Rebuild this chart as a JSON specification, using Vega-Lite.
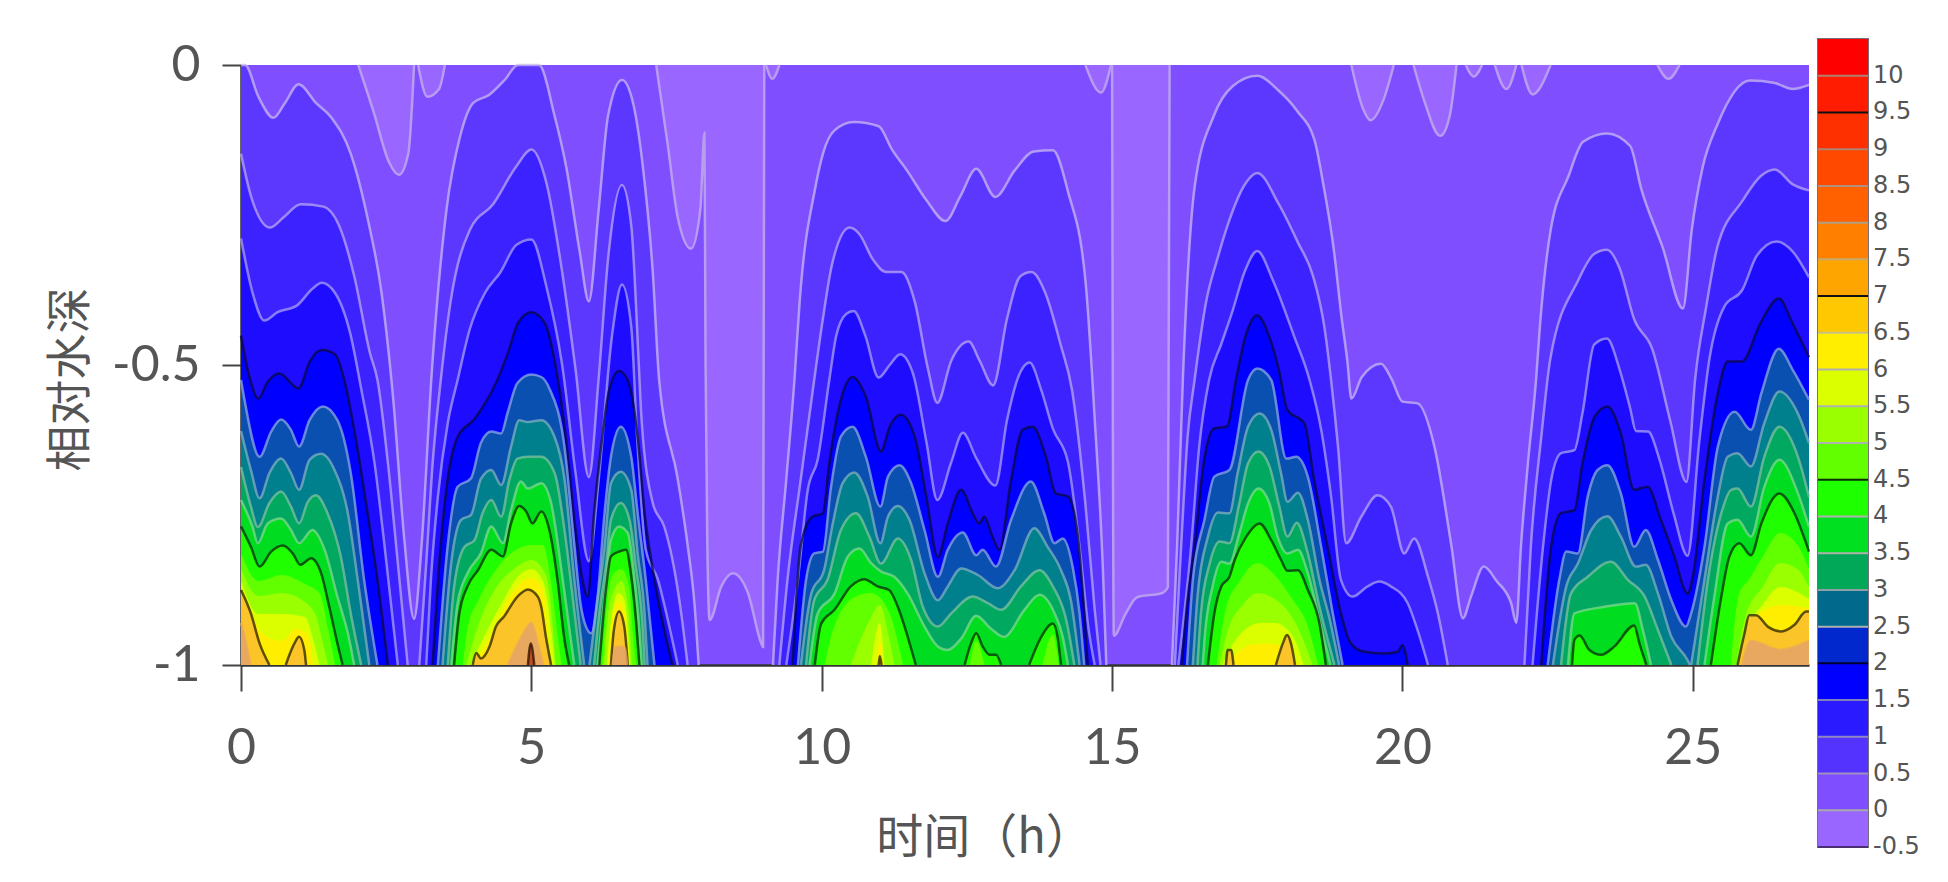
{
  "$schema": "https://vega.github.io/schema/vega-lite/v6.json",
  "background": "white",
  "padding": {"left": 47, "top": 38, "right": 0, "bottom": 12},
  "spacing": 2,
  "datasets": {
    "pockets": [
      {"part":"p1","t":2.02,"y":0},{"part":"p1","t":2.28,"y":-0.077},{"part":"p1","t":2.55,"y":-0.162},{"part":"p1","t":2.72,"y":-0.183},{"part":"p1","t":2.88,"y":-0.148},{"part":"p1","t":2.98,"y":0},
      {"part":"p2","t":3.05,"y":0},{"part":"p2","t":3.21,"y":-0.053},{"part":"p2","t":3.41,"y":-0.04},{"part":"p2","t":3.51,"y":0},
      {"part":"p3","t":7.15,"y":0},{"part":"p3","t":7.35,"y":-0.134},{"part":"p3","t":7.52,"y":-0.254},{"part":"p3","t":7.75,"y":-0.306},{"part":"p3","t":7.91,"y":-0.24},{"part":"p3","t":7.98,"y":-0.113},{"part":"p3","t":8.0,"y":-0.5},{"part":"p3","t":8.03,"y":-0.8},{"part":"p3","t":8.07,"y":-0.925},{"part":"p3","t":8.27,"y":-0.869},{"part":"p3","t":8.47,"y":-0.847},{"part":"p3","t":8.73,"y":-0.88},{"part":"p3","t":8.96,"y":-0.964},{"part":"p3","t":8.99,"y":-0.97},{"part":"p3","t":9.01,"y":0},
      {"part":"p4","t":9.04,"y":0},{"part":"p4","t":9.15,"y":-0.023},{"part":"p4","t":9.27,"y":0},
      {"part":"p5","t":14.54,"y":0},{"part":"p5","t":14.81,"y":-0.046},{"part":"p5","t":14.98,"y":0},
      {"part":"p6","t":15.0,"y":0},{"part":"p6","t":15.03,"y":-0.951},{"part":"p6","t":15.23,"y":-0.915},{"part":"p6","t":15.43,"y":-0.887},{"part":"p6","t":15.86,"y":-0.88},{"part":"p6","t":15.96,"y":-0.87},{"part":"p6","t":15.99,"y":0},
      {"part":"p7","t":19.12,"y":0},{"part":"p7","t":19.31,"y":-0.07},{"part":"p7","t":19.45,"y":-0.092},{"part":"p7","t":19.68,"y":-0.056},{"part":"p7","t":19.85,"y":0},
      {"part":"p8","t":20.19,"y":0},{"part":"p8","t":20.37,"y":-0.058},{"part":"p8","t":20.65,"y":-0.118},{"part":"p8","t":20.81,"y":-0.086},{"part":"p8","t":20.93,"y":0},
      {"part":"p9","t":21.09,"y":0},{"part":"p9","t":21.23,"y":-0.019},{"part":"p9","t":21.37,"y":0},
      {"part":"p10","t":21.59,"y":0},{"part":"p10","t":21.79,"y":-0.04},{"part":"p10","t":21.96,"y":0},
      {"part":"p11","t":22.05,"y":0},{"part":"p11","t":22.24,"y":-0.049},{"part":"p11","t":22.55,"y":0},
      {"part":"p12","t":24.39,"y":0},{"part":"p12","t":24.58,"y":-0.023},{"part":"p12","t":24.77,"y":0}
    ],
    "contours": [
      {"level":0.5,"part":"a","t":0,"y":0},{"level":0.5,"part":"a","t":0.07,"y":0},{"level":0.5,"part":"a","t":0.3,"y":-0.053},{"level":0.5,"part":"a","t":0.56,"y":-0.088},{"level":0.5,"part":"a","t":0.76,"y":-0.063},{"level":0.5,"part":"a","t":0.99,"y":-0.032},{"level":0.5,"part":"a","t":1.29,"y":-0.063},{"level":0.5,"part":"a","t":1.56,"y":-0.088},{"level":0.5,"part":"a","t":1.89,"y":-0.148},{"level":0.5,"part":"a","t":2.19,"y":-0.26},{"level":0.5,"part":"a","t":2.42,"y":-0.38},{"level":0.5,"part":"a","t":2.62,"y":-0.556},{"level":0.5,"part":"a","t":2.81,"y":-0.789},{"level":0.5,"part":"a","t":2.98,"y":-0.923},{"level":0.5,"part":"a","t":3.11,"y":-0.8},{"level":0.5,"part":"a","t":3.28,"y":-0.52},{"level":0.5,"part":"a","t":3.54,"y":-0.24},{"level":0.5,"part":"a","t":3.77,"y":-0.12},{"level":0.5,"part":"a","t":4.0,"y":-0.063},{"level":0.5,"part":"a","t":4.27,"y":-0.05},{"level":0.5,"part":"a","t":4.54,"y":-0.025},{"level":0.5,"part":"a","t":4.77,"y":0},{"level":0.5,"part":"a","t":5.13,"y":0},{"level":0.5,"part":"a","t":5.4,"y":-0.085},{"level":0.5,"part":"a","t":5.6,"y":-0.17},{"level":0.5,"part":"a","t":5.83,"y":-0.31},{"level":0.5,"part":"a","t":5.99,"y":-0.394},{"level":0.5,"part":"a","t":6.16,"y":-0.24},{"level":0.5,"part":"a","t":6.32,"y":-0.085},{"level":0.5,"part":"a","t":6.56,"y":-0.025},{"level":0.5,"part":"a","t":6.75,"y":-0.063},{"level":0.5,"part":"a","t":6.92,"y":-0.17},{"level":0.5,"part":"a","t":7.09,"y":-0.345},{"level":0.5,"part":"a","t":7.2,"y":-0.525},{"level":0.5,"part":"a","t":7.52,"y":-0.69},{"level":0.5,"part":"a","t":7.69,"y":-0.8},{"level":0.5,"part":"a","t":7.81,"y":-0.9},{"level":0.5,"part":"a","t":7.88,"y":-1},
      {"level":0.5,"part":"d","t":9.16,"y":-1},{"level":0.5,"part":"d","t":9.24,"y":-0.86},{"level":0.5,"part":"d","t":9.39,"y":-0.69},{"level":0.5,"part":"d","t":9.53,"y":-0.525},{"level":0.5,"part":"d","t":9.62,"y":-0.394},{"level":0.5,"part":"d","t":9.89,"y":-0.204},{"level":0.5,"part":"d","t":10.02,"y":-0.148},{"level":0.5,"part":"d","t":10.22,"y":-0.109},{"level":0.5,"part":"d","t":10.55,"y":-0.095},{"level":0.5,"part":"d","t":10.98,"y":-0.102},{"level":0.5,"part":"d","t":11.21,"y":-0.141},{"level":0.5,"part":"d","t":11.47,"y":-0.176},{"level":0.5,"part":"d","t":11.8,"y":-0.225},{"level":0.5,"part":"d","t":12.13,"y":-0.26},{"level":0.5,"part":"d","t":12.39,"y":-0.218},{"level":0.5,"part":"d","t":12.66,"y":-0.173},{"level":0.5,"part":"d","t":12.99,"y":-0.22},{"level":0.5,"part":"d","t":13.32,"y":-0.176},{"level":0.5,"part":"d","t":13.65,"y":-0.144},{"level":0.5,"part":"d","t":13.98,"y":-0.142},{"level":0.5,"part":"d","t":14.24,"y":-0.211},{"level":0.5,"part":"d","t":14.54,"y":-0.359},{"level":0.5,"part":"d","t":14.7,"y":-0.59},{"level":0.5,"part":"d","t":14.84,"y":-0.838},{"level":0.5,"part":"d","t":14.9,"y":-1},
      {"level":0.5,"part":"e","t":16.03,"y":-1},{"level":0.5,"part":"e","t":16.12,"y":-0.8},{"level":0.5,"part":"e","t":16.22,"y":-0.52},{"level":0.5,"part":"e","t":16.42,"y":-0.204},{"level":0.5,"part":"e","t":16.75,"y":-0.085},{"level":0.5,"part":"e","t":17.08,"y":-0.035},{"level":0.5,"part":"e","t":17.5,"y":-0.018},{"level":0.5,"part":"e","t":17.86,"y":-0.042},{"level":0.5,"part":"e","t":18.19,"y":-0.077},{"level":0.5,"part":"e","t":18.49,"y":-0.127},{"level":0.5,"part":"e","t":18.62,"y":-0.19},{"level":0.5,"part":"e","t":18.82,"y":-0.31},{"level":0.5,"part":"e","t":18.95,"y":-0.42},{"level":0.5,"part":"e","t":19.05,"y":-0.493},{"level":0.5,"part":"e","t":19.12,"y":-0.556},{"level":0.5,"part":"e","t":19.3,"y":-0.52},{"level":0.5,"part":"e","t":19.63,"y":-0.498},{"level":0.5,"part":"e","t":19.81,"y":-0.523},{"level":0.5,"part":"e","t":20,"y":-0.561},{"level":0.5,"part":"e","t":20.26,"y":-0.564},{"level":0.5,"part":"e","t":20.55,"y":-0.636},{"level":0.5,"part":"e","t":20.84,"y":-0.8},{"level":0.5,"part":"e","t":21.04,"y":-0.922},{"level":0.5,"part":"e","t":21.18,"y":-0.886},{"level":0.5,"part":"e","t":21.4,"y":-0.836},{"level":0.5,"part":"e","t":21.62,"y":-0.86},{"level":0.5,"part":"e","t":21.87,"y":-0.897},{"level":0.5,"part":"e","t":21.96,"y":-0.93},{"level":0.5,"part":"e","t":22.04,"y":-0.803},{"level":0.5,"part":"e","t":22.16,"y":-0.664},{"level":0.5,"part":"e","t":22.3,"y":-0.525},{"level":0.5,"part":"e","t":22.37,"y":-0.431},{"level":0.5,"part":"e","t":22.55,"y":-0.276},{"level":0.5,"part":"e","t":22.86,"y":-0.185},{"level":0.5,"part":"e","t":23.11,"y":-0.128},{"level":0.5,"part":"e","t":23.52,"y":-0.114},{"level":0.5,"part":"e","t":23.92,"y":-0.135},{"level":0.5,"part":"e","t":24.11,"y":-0.206},{"level":0.5,"part":"e","t":24.48,"y":-0.304},{"level":0.5,"part":"e","t":24.83,"y":-0.406},{"level":0.5,"part":"e","t":24.98,"y":-0.276},{"level":0.5,"part":"e","t":25.17,"y":-0.17},{"level":0.5,"part":"e","t":25.42,"y":-0.1},{"level":0.5,"part":"e","t":25.98,"y":-0.026},{"level":0.5,"part":"e","t":26.41,"y":-0.03},{"level":0.5,"part":"e","t":26.72,"y":-0.04},{"level":0.5,"part":"e","t":27,"y":-0.033},

      {"level":1,"part":"a","t":0,"y":-0.148},{"level":1,"part":"a","t":0.17,"y":-0.218},{"level":1,"part":"a","t":0.5,"y":-0.271},{"level":1,"part":"a","t":0.73,"y":-0.254},{"level":1,"part":"a","t":1.03,"y":-0.232},{"level":1,"part":"a","t":1.42,"y":-0.236},{"level":1,"part":"a","t":1.69,"y":-0.268},{"level":1,"part":"a","t":1.95,"y":-0.352},{"level":1,"part":"a","t":2.22,"y":-0.48},{"level":1,"part":"a","t":2.35,"y":-0.525},{"level":1,"part":"a","t":2.53,"y":-0.664},{"level":1,"part":"a","t":2.7,"y":-0.83},{"level":1,"part":"a","t":2.87,"y":-1},
      {"level":1,"part":"b","t":3.07,"y":-1},{"level":1,"part":"b","t":3.19,"y":-0.83},{"level":1,"part":"b","t":3.3,"y":-0.664},{"level":1,"part":"b","t":3.44,"y":-0.525},{"level":1,"part":"b","t":3.61,"y":-0.394},{"level":1,"part":"b","t":3.94,"y":-0.275},{"level":1,"part":"b","t":4.34,"y":-0.232},{"level":1,"part":"b","t":4.74,"y":-0.169},{"level":1,"part":"b","t":5,"y":-0.141},{"level":1,"part":"b","t":5.26,"y":-0.197},{"level":1,"part":"b","t":5.53,"y":-0.345},{"level":1,"part":"b","t":5.76,"y":-0.507},{"level":1,"part":"b","t":5.99,"y":-0.687},{"level":1,"part":"b","t":6.16,"y":-0.521},{"level":1,"part":"b","t":6.32,"y":-0.324},{"level":1,"part":"b","t":6.56,"y":-0.2},{"level":1,"part":"b","t":6.72,"y":-0.268},{"level":1,"part":"b","t":6.85,"y":-0.5},{"level":1,"part":"b","t":6.89,"y":-0.58},{"level":1,"part":"b","t":7.09,"y":-0.73},{"level":1,"part":"b","t":7.29,"y":-0.77},{"level":1,"part":"b","t":7.46,"y":-0.84},{"level":1,"part":"b","t":7.58,"y":-0.914},{"level":1,"part":"b","t":7.69,"y":-1},
      {"level":1,"part":"d","t":9.27,"y":-1},{"level":1,"part":"d","t":9.41,"y":-0.858},{"level":1,"part":"d","t":9.64,"y":-0.69},{"level":1,"part":"d","t":9.87,"y":-0.525},{"level":1,"part":"d","t":10.02,"y":-0.423},{"level":1,"part":"d","t":10.18,"y":-0.331},{"level":1,"part":"d","t":10.48,"y":-0.271},{"level":1,"part":"d","t":10.65,"y":-0.282},{"level":1,"part":"d","t":10.88,"y":-0.324},{"level":1,"part":"d","t":11.11,"y":-0.345},{"level":1,"part":"d","t":11.37,"y":-0.345},{"level":1,"part":"d","t":11.6,"y":-0.394},{"level":1,"part":"d","t":11.83,"y":-0.507},{"level":1,"part":"d","t":11.99,"y":-0.563},{"level":1,"part":"d","t":12.23,"y":-0.493},{"level":1,"part":"d","t":12.53,"y":-0.461},{"level":1,"part":"d","t":12.72,"y":-0.493},{"level":1,"part":"d","t":12.95,"y":-0.534},{"level":1,"part":"d","t":13.19,"y":-0.423},{"level":1,"part":"d","t":13.42,"y":-0.352},{"level":1,"part":"d","t":13.61,"y":-0.345},{"level":1,"part":"d","t":13.85,"y":-0.38},{"level":1,"part":"d","t":14.11,"y":-0.465},{"level":1,"part":"d","t":14.31,"y":-0.542},{"level":1,"part":"d","t":14.54,"y":-0.732},{"level":1,"part":"d","t":14.7,"y":-0.908},{"level":1,"part":"d","t":14.8,"y":-1},
      {"level":1,"part":"e","t":16.08,"y":-1},{"level":1,"part":"e","t":16.19,"y":-0.8},{"level":1,"part":"e","t":16.3,"y":-0.62},{"level":1,"part":"e","t":16.42,"y":-0.525},{"level":1,"part":"e","t":16.62,"y":-0.394},{"level":1,"part":"e","t":16.81,"y":-0.324},{"level":1,"part":"e","t":17.01,"y":-0.261},{"level":1,"part":"e","t":17.28,"y":-0.2},{"level":1,"part":"e","t":17.5,"y":-0.18},{"level":1,"part":"e","t":17.87,"y":-0.232},{"level":1,"part":"e","t":18.2,"y":-0.296},{"level":1,"part":"e","t":18.46,"y":-0.352},{"level":1,"part":"e","t":18.66,"y":-0.44},{"level":1,"part":"e","t":18.77,"y":-0.525},{"level":1,"part":"e","t":18.89,"y":-0.636},{"level":1,"part":"e","t":19.03,"y":-0.797},{"level":1,"part":"e","t":19.29,"y":-0.753},{"level":1,"part":"e","t":19.57,"y":-0.717},{"level":1,"part":"e","t":19.8,"y":-0.736},{"level":1,"part":"e","t":20.03,"y":-0.814},{"level":1,"part":"e","t":20.2,"y":-0.789},{"level":1,"part":"e","t":20.44,"y":-0.853},{"level":1,"part":"e","t":20.61,"y":-0.914},{"level":1,"part":"e","t":20.78,"y":-1},
      {"level":1,"part":"f","t":22.1,"y":-1},{"level":1,"part":"f","t":22.21,"y":-0.803},{"level":1,"part":"f","t":22.39,"y":-0.62},{"level":1,"part":"f","t":22.55,"y":-0.487},{"level":1,"part":"f","t":23.02,"y":-0.36},{"level":1,"part":"f","t":23.3,"y":-0.315},{"level":1,"part":"f","t":23.52,"y":-0.308},{"level":1,"part":"f","t":23.74,"y":-0.339},{"level":1,"part":"f","t":23.99,"y":-0.424},{"level":1,"part":"f","t":24.3,"y":-0.473},{"level":1,"part":"f","t":24.61,"y":-0.593},{"level":1,"part":"f","t":24.89,"y":-0.695},{"level":1,"part":"f","t":25.04,"y":-0.523},{"level":1,"part":"f","t":25.23,"y":-0.403},{"level":1,"part":"f","t":25.42,"y":-0.304},{"level":1,"part":"f","t":25.85,"y":-0.227},{"level":1,"part":"f","t":26.17,"y":-0.185},{"level":1,"part":"f","t":26.41,"y":-0.174},{"level":1,"part":"f","t":26.72,"y":-0.199},{"level":1,"part":"f","t":27,"y":-0.209},

      {"level":1.5,"part":"a","t":0,"y":-0.289},{"level":1.5,"part":"a","t":0.2,"y":-0.38},{"level":1.5,"part":"a","t":0.4,"y":-0.426},{"level":1.5,"part":"a","t":0.63,"y":-0.412},{"level":1.5,"part":"a","t":0.96,"y":-0.401},{"level":1.5,"part":"a","t":1.23,"y":-0.373},{"level":1.5,"part":"a","t":1.39,"y":-0.363},{"level":1.5,"part":"a","t":1.62,"y":-0.38},{"level":1.5,"part":"a","t":1.89,"y":-0.451},{"level":1.5,"part":"a","t":2.07,"y":-0.54},{"level":1.5,"part":"a","t":2.3,"y":-0.664},{"level":1.5,"part":"a","t":2.47,"y":-0.8},{"level":1.5,"part":"a","t":2.7,"y":-1},
      {"level":1.5,"part":"b","t":3.19,"y":-1},{"level":1.5,"part":"b","t":3.27,"y":-0.858},{"level":1.5,"part":"b","t":3.39,"y":-0.72},{"level":1.5,"part":"b","t":3.56,"y":-0.597},{"level":1.5,"part":"b","t":3.73,"y":-0.525},{"level":1.5,"part":"b","t":3.94,"y":-0.44},{"level":1.5,"part":"b","t":4.2,"y":-0.38},{"level":1.5,"part":"b","t":4.47,"y":-0.345},{"level":1.5,"part":"b","t":4.74,"y":-0.3},{"level":1.5,"part":"b","t":5,"y":-0.291},{"level":1.5,"part":"b","t":5.26,"y":-0.37},{"level":1.5,"part":"b","t":5.53,"y":-0.5},{"level":1.5,"part":"b","t":5.76,"y":-0.68},{"level":1.5,"part":"b","t":5.99,"y":-0.827},{"level":1.5,"part":"b","t":6.16,"y":-0.69},{"level":1.5,"part":"b","t":6.39,"y":-0.45},{"level":1.5,"part":"b","t":6.56,"y":-0.366},{"level":1.5,"part":"b","t":6.72,"y":-0.437},{"level":1.5,"part":"b","t":6.82,"y":-0.62},{"level":1.5,"part":"b","t":6.97,"y":-0.808},{"level":1.5,"part":"b","t":7.18,"y":-0.858},{"level":1.5,"part":"b","t":7.35,"y":-0.925},{"level":1.5,"part":"b","t":7.52,"y":-1},
      {"level":1.5,"part":"d","t":9.39,"y":-1},{"level":1.5,"part":"d","t":9.59,"y":-0.858},{"level":1.5,"part":"d","t":9.76,"y":-0.708},{"level":1.5,"part":"d","t":9.93,"y":-0.658},{"level":1.5,"part":"d","t":10.13,"y":-0.525},{"level":1.5,"part":"d","t":10.25,"y":-0.451},{"level":1.5,"part":"d","t":10.42,"y":-0.415},{"level":1.5,"part":"d","t":10.55,"y":-0.41},{"level":1.5,"part":"d","t":10.75,"y":-0.451},{"level":1.5,"part":"d","t":10.98,"y":-0.521},{"level":1.5,"part":"d","t":11.17,"y":-0.5},{"level":1.5,"part":"d","t":11.35,"y":-0.482},{"level":1.5,"part":"d","t":11.57,"y":-0.514},{"level":1.5,"part":"d","t":11.8,"y":-0.627},{"level":1.5,"part":"d","t":11.99,"y":-0.725},{"level":1.5,"part":"d","t":12.23,"y":-0.662},{"level":1.5,"part":"d","t":12.43,"y":-0.613},{"level":1.5,"part":"d","t":12.66,"y":-0.655},{"level":1.5,"part":"d","t":12.99,"y":-0.701},{"level":1.5,"part":"d","t":13.19,"y":-0.592},{"level":1.5,"part":"d","t":13.38,"y":-0.521},{"level":1.5,"part":"d","t":13.58,"y":-0.496},{"level":1.5,"part":"d","t":13.78,"y":-0.542},{"level":1.5,"part":"d","t":13.98,"y":-0.606},{"level":1.5,"part":"d","t":14.24,"y":-0.662},{"level":1.5,"part":"d","t":14.44,"y":-0.803},{"level":1.5,"part":"d","t":14.6,"y":-0.944},{"level":1.5,"part":"d","t":14.7,"y":-1},
      {"level":1.5,"part":"e","t":16.14,"y":-1},{"level":1.5,"part":"e","t":16.36,"y":-0.803},{"level":1.5,"part":"e","t":16.5,"y":-0.636},{"level":1.5,"part":"e","t":16.67,"y":-0.525},{"level":1.5,"part":"e","t":16.88,"y":-0.465},{"level":1.5,"part":"e","t":17.08,"y":-0.408},{"level":1.5,"part":"e","t":17.28,"y":-0.345},{"level":1.5,"part":"e","t":17.5,"y":-0.31},{"level":1.5,"part":"e","t":17.77,"y":-0.359},{"level":1.5,"part":"e","t":18.13,"y":-0.451},{"level":1.5,"part":"e","t":18.4,"y":-0.525},{"level":1.5,"part":"e","t":18.6,"y":-0.608},{"level":1.5,"part":"e","t":18.77,"y":-0.719},{"level":1.5,"part":"e","t":18.94,"y":-0.858},{"level":1.5,"part":"e","t":19.14,"y":-0.886},{"level":1.5,"part":"e","t":19.4,"y":-0.869},{"level":1.5,"part":"e","t":19.6,"y":-0.861},{"level":1.5,"part":"e","t":19.8,"y":-0.869},{"level":1.5,"part":"e","t":20.09,"y":-0.897},{"level":1.5,"part":"e","t":20.26,"y":-0.942},{"level":1.5,"part":"e","t":20.44,"y":-1},
      {"level":1.5,"part":"f","t":22.24,"y":-1},{"level":1.5,"part":"f","t":22.42,"y":-0.803},{"level":1.5,"part":"f","t":22.56,"y":-0.692},{"level":1.5,"part":"f","t":22.73,"y":-0.647},{"level":1.5,"part":"f","t":22.96,"y":-0.642},{"level":1.5,"part":"f","t":23.1,"y":-0.58},{"level":1.5,"part":"f","t":23.3,"y":-0.466},{"level":1.5,"part":"f","t":23.52,"y":-0.456},{"level":1.5,"part":"f","t":23.74,"y":-0.508},{"level":1.5,"part":"f","t":23.92,"y":-0.572},{"level":1.5,"part":"f","t":24.02,"y":-0.61},{"level":1.5,"part":"f","t":24.23,"y":-0.611},{"level":1.5,"part":"f","t":24.42,"y":-0.656},{"level":1.5,"part":"f","t":24.67,"y":-0.748},{"level":1.5,"part":"f","t":24.91,"y":-0.818},{"level":1.5,"part":"f","t":25.11,"y":-0.628},{"level":1.5,"part":"f","t":25.29,"y":-0.487},{"level":1.5,"part":"f","t":25.54,"y":-0.403},{"level":1.5,"part":"f","t":25.85,"y":-0.375},{"level":1.5,"part":"f","t":26.1,"y":-0.318},{"level":1.5,"part":"f","t":26.44,"y":-0.294},{"level":1.5,"part":"f","t":26.72,"y":-0.311},{"level":1.5,"part":"f","t":27,"y":-0.354},

      {"level":2,"part":"a","t":0,"y":-0.451},{"level":2,"part":"a","t":0.13,"y":-0.514},{"level":2,"part":"a","t":0.3,"y":-0.556},{"level":2,"part":"a","t":0.46,"y":-0.528},{"level":2,"part":"a","t":0.66,"y":-0.514},{"level":2,"part":"a","t":0.99,"y":-0.539},{"level":2,"part":"a","t":1.19,"y":-0.493},{"level":2,"part":"a","t":1.39,"y":-0.475},{"level":2,"part":"a","t":1.62,"y":-0.482},{"level":2,"part":"a","t":1.78,"y":-0.525},{"level":2,"part":"a","t":1.95,"y":-0.608},{"level":2,"part":"a","t":2.18,"y":-0.747},{"level":2,"part":"a","t":2.35,"y":-0.858},{"level":2,"part":"a","t":2.53,"y":-1},
      {"level":2,"part":"b","t":3.3,"y":-1},{"level":2,"part":"b","t":3.44,"y":-0.8},{"level":2,"part":"b","t":3.56,"y":-0.69},{"level":2,"part":"b","t":3.73,"y":-0.62},{"level":2,"part":"b","t":4.02,"y":-0.59},{"level":2,"part":"b","t":4.4,"y":-0.528},{"level":2,"part":"b","t":4.6,"y":-0.479},{"level":2,"part":"b","t":4.77,"y":-0.43},{"level":2,"part":"b","t":5,"y":-0.412},{"level":2,"part":"b","t":5.23,"y":-0.43},{"level":2,"part":"b","t":5.4,"y":-0.493},{"level":2,"part":"b","t":5.6,"y":-0.627},{"level":2,"part":"b","t":5.74,"y":-0.758},{"level":2,"part":"b","t":5.88,"y":-0.858},{"level":2,"part":"b","t":5.97,"y":-0.886},{"level":2,"part":"b","t":6.08,"y":-0.747},{"level":2,"part":"b","t":6.2,"y":-0.636},{"level":2,"part":"b","t":6.34,"y":-0.542},{"level":2,"part":"b","t":6.51,"y":-0.51},{"level":2,"part":"b","t":6.66,"y":-0.525},{"level":2,"part":"b","t":6.83,"y":-0.62},{"level":2,"part":"b","t":6.95,"y":-0.747},{"level":2,"part":"b","t":7.12,"y":-0.858},{"level":2,"part":"b","t":7.29,"y":-0.942},{"level":2,"part":"b","t":7.43,"y":-1},
      {"level":2,"part":"d","t":9.5,"y":-1},{"level":2,"part":"d","t":9.64,"y":-0.8},{"level":2,"part":"d","t":9.84,"y":-0.753},{"level":2,"part":"d","t":10.02,"y":-0.747},{"level":2,"part":"d","t":10.13,"y":-0.664},{"level":2,"part":"d","t":10.33,"y":-0.558},{"level":2,"part":"d","t":10.53,"y":-0.52},{"level":2,"part":"d","t":10.76,"y":-0.553},{"level":2,"part":"d","t":11.02,"y":-0.644},{"level":2,"part":"d","t":11.17,"y":-0.603},{"level":2,"part":"d","t":11.36,"y":-0.583},{"level":2,"part":"d","t":11.6,"y":-0.619},{"level":2,"part":"d","t":11.8,"y":-0.719},{"level":2,"part":"d","t":12,"y":-0.82},{"level":2,"part":"d","t":12.17,"y":-0.764},{"level":2,"part":"d","t":12.4,"y":-0.708},{"level":2,"part":"d","t":12.6,"y":-0.747},{"level":2,"part":"d","t":12.71,"y":-0.764},{"level":2,"part":"d","t":12.8,"y":-0.753},{"level":2,"part":"d","t":12.94,"y":-0.786},{"level":2,"part":"d","t":13.06,"y":-0.808},{"level":2,"part":"d","t":13.26,"y":-0.692},{"level":2,"part":"d","t":13.46,"y":-0.608},{"level":2,"part":"d","t":13.63,"y":-0.603},{"level":2,"part":"d","t":13.86,"y":-0.653},{"level":2,"part":"d","t":14.03,"y":-0.714},{"level":2,"part":"d","t":14.24,"y":-0.719},{"level":2,"part":"d","t":14.41,"y":-0.786},{"level":2,"part":"d","t":14.52,"y":-0.914},{"level":2,"part":"d","t":14.58,"y":-1},
      {"level":2,"part":"e","t":16.2,"y":-1},{"level":2,"part":"e","t":16.29,"y":-0.9},{"level":2,"part":"e","t":16.42,"y":-0.803},{"level":2,"part":"e","t":16.58,"y":-0.662},{"level":2,"part":"e","t":16.75,"y":-0.606},{"level":2,"part":"e","t":16.98,"y":-0.602},{"level":2,"part":"e","t":17.14,"y":-0.521},{"level":2,"part":"e","t":17.3,"y":-0.451},{"level":2,"part":"e","t":17.5,"y":-0.417},{"level":2,"part":"e","t":17.7,"y":-0.451},{"level":2,"part":"e","t":17.87,"y":-0.507},{"level":2,"part":"e","t":18.02,"y":-0.575},{"level":2,"part":"e","t":18.31,"y":-0.597},{"level":2,"part":"e","t":18.48,"y":-0.692},{"level":2,"part":"e","t":18.71,"y":-0.803},{"level":2,"part":"e","t":18.94,"y":-0.914},{"level":2,"part":"e","t":19.11,"y":-0.964},{"level":2,"part":"e","t":19.34,"y":-0.978},{"level":2,"part":"e","t":19.69,"y":-0.981},{"level":2,"part":"e","t":19.92,"y":-0.978},{"level":2,"part":"e","t":20,"y":-0.967},{"level":2,"part":"e","t":20.09,"y":-1},
      {"level":2,"part":"f","t":22.39,"y":-1},{"level":2,"part":"f","t":22.56,"y":-0.803},{"level":2,"part":"f","t":22.73,"y":-0.747},{"level":2,"part":"f","t":22.96,"y":-0.742},{"level":2,"part":"f","t":23.1,"y":-0.664},{"level":2,"part":"f","t":23.31,"y":-0.586},{"level":2,"part":"f","t":23.53,"y":-0.569},{"level":2,"part":"f","t":23.76,"y":-0.614},{"level":2,"part":"f","t":23.99,"y":-0.708},{"level":2,"part":"f","t":24.22,"y":-0.703},{"level":2,"part":"f","t":24.45,"y":-0.758},{"level":2,"part":"f","t":24.68,"y":-0.819},{"level":2,"part":"f","t":24.91,"y":-0.881},{"level":2,"part":"f","t":25,"y":-0.853},{"level":2,"part":"f","t":25.2,"y":-0.692},{"level":2,"part":"f","t":25.43,"y":-0.547},{"level":2,"part":"f","t":25.6,"y":-0.494},{"level":2,"part":"f","t":25.85,"y":-0.494},{"level":2,"part":"f","t":26.16,"y":-0.431},{"level":2,"part":"f","t":26.48,"y":-0.389},{"level":2,"part":"f","t":26.72,"y":-0.431},{"level":2,"part":"f","t":27,"y":-0.487},

      {"level":2.5,"part":"a","t":0,"y":-0.525},{"level":2.5,"part":"a","t":0.06,"y":-0.558},{"level":2.5,"part":"a","t":0.32,"y":-0.653},{"level":2.5,"part":"a","t":0.52,"y":-0.611},{"level":2.5,"part":"a","t":0.69,"y":-0.591},{"level":2.5,"part":"a","t":0.86,"y":-0.608},{"level":2.5,"part":"a","t":1,"y":-0.636},{"level":2.5,"part":"a","t":1.18,"y":-0.592},{"level":2.5,"part":"a","t":1.41,"y":-0.569},{"level":2.5,"part":"a","t":1.66,"y":-0.592},{"level":2.5,"part":"a","t":1.89,"y":-0.68},{"level":2.5,"part":"a","t":2.12,"y":-0.858},{"level":2.5,"part":"a","t":2.35,"y":-1},
      {"level":2.5,"part":"b","t":3.39,"y":-1},{"level":2.5,"part":"b","t":3.56,"y":-0.8},{"level":2.5,"part":"b","t":3.73,"y":-0.703},{"level":2.5,"part":"b","t":3.96,"y":-0.689},{"level":2.5,"part":"b","t":4.13,"y":-0.63},{"level":2.5,"part":"b","t":4.31,"y":-0.611},{"level":2.5,"part":"b","t":4.48,"y":-0.614},{"level":2.5,"part":"b","t":4.59,"y":-0.58},{"level":2.5,"part":"b","t":4.76,"y":-0.53},{"level":2.5,"part":"b","t":5,"y":-0.516},{"level":2.5,"part":"b","t":5.17,"y":-0.52},{"level":2.5,"part":"b","t":5.31,"y":-0.539},{"level":2.5,"part":"b","t":5.57,"y":-0.636},{"level":2.5,"part":"b","t":5.74,"y":-0.8},{"level":2.5,"part":"b","t":5.85,"y":-0.9},{"level":2.5,"part":"b","t":5.94,"y":-0.936},{"level":2.5,"part":"b","t":6.03,"y":-0.947},{"level":2.5,"part":"b","t":6.14,"y":-0.886},{"level":2.5,"part":"b","t":6.26,"y":-0.747},{"level":2.5,"part":"b","t":6.37,"y":-0.653},{"level":2.5,"part":"b","t":6.54,"y":-0.603},{"level":2.5,"part":"b","t":6.72,"y":-0.653},{"level":2.5,"part":"b","t":6.83,"y":-0.747},{"level":2.5,"part":"b","t":6.97,"y":-0.858},{"level":2.5,"part":"b","t":7.12,"y":-1},
      {"level":2.5,"part":"d","t":9.59,"y":-1},{"level":2.5,"part":"d","t":9.73,"y":-0.858},{"level":2.5,"part":"d","t":9.87,"y":-0.814},{"level":2.5,"part":"d","t":10.02,"y":-0.811},{"level":2.5,"part":"d","t":10.16,"y":-0.703},{"level":2.5,"part":"d","t":10.33,"y":-0.619},{"level":2.5,"part":"d","t":10.53,"y":-0.603},{"level":2.5,"part":"d","t":10.76,"y":-0.653},{"level":2.5,"part":"d","t":11.01,"y":-0.736},{"level":2.5,"part":"d","t":11.14,"y":-0.686},{"level":2.5,"part":"d","t":11.34,"y":-0.667},{"level":2.5,"part":"d","t":11.54,"y":-0.697},{"level":2.5,"part":"d","t":11.77,"y":-0.775},{"level":2.5,"part":"d","t":12,"y":-0.853},{"level":2.5,"part":"d","t":12.17,"y":-0.808},{"level":2.5,"part":"d","t":12.43,"y":-0.779},{"level":2.5,"part":"d","t":12.66,"y":-0.817},{"level":2.5,"part":"d","t":12.77,"y":-0.808},{"level":2.5,"part":"d","t":13,"y":-0.836},{"level":2.5,"part":"d","t":13.26,"y":-0.758},{"level":2.5,"part":"d","t":13.6,"y":-0.694},{"level":2.5,"part":"d","t":13.83,"y":-0.747},{"level":2.5,"part":"d","t":14.01,"y":-0.797},{"level":2.5,"part":"d","t":14.15,"y":-0.789},{"level":2.5,"part":"d","t":14.32,"y":-0.836},{"level":2.5,"part":"d","t":14.44,"y":-0.914},{"level":2.5,"part":"d","t":14.52,"y":-1},
      {"level":2.5,"part":"e","t":16.29,"y":-1},{"level":2.5,"part":"e","t":16.39,"y":-0.858},{"level":2.5,"part":"e","t":16.59,"y":-0.758},{"level":2.5,"part":"e","t":16.76,"y":-0.686},{"level":2.5,"part":"e","t":17.02,"y":-0.675},{"level":2.5,"part":"e","t":17.34,"y":-0.525},{"level":2.5,"part":"e","t":17.5,"y":-0.506},{"level":2.5,"part":"e","t":17.74,"y":-0.525},{"level":2.5,"part":"e","t":18,"y":-0.656},{"level":2.5,"part":"e","t":18.17,"y":-0.653},{"level":2.5,"part":"e","t":18.37,"y":-0.686},{"level":2.5,"part":"e","t":18.6,"y":-0.803},{"level":2.5,"part":"e","t":18.8,"y":-0.914},{"level":2.5,"part":"e","t":18.97,"y":-1},
      {"level":2.5,"part":"f","t":22.5,"y":-1},{"level":2.5,"part":"f","t":22.7,"y":-0.858},{"level":2.5,"part":"f","t":22.82,"y":-0.811},{"level":2.5,"part":"f","t":23.02,"y":-0.814},{"level":2.5,"part":"f","t":23.19,"y":-0.719},{"level":2.5,"part":"f","t":23.36,"y":-0.675},{"level":2.5,"part":"f","t":23.53,"y":-0.667},{"level":2.5,"part":"f","t":23.76,"y":-0.714},{"level":2.5,"part":"f","t":23.99,"y":-0.803},{"level":2.5,"part":"f","t":24.19,"y":-0.775},{"level":2.5,"part":"f","t":24.4,"y":-0.825},{"level":2.5,"part":"f","t":24.63,"y":-0.892},{"level":2.5,"part":"f","t":24.88,"y":-0.936},{"level":2.5,"part":"f","t":24.97,"y":-0.914},{"level":2.5,"part":"f","t":25.2,"y":-0.803},{"level":2.5,"part":"f","t":25.43,"y":-0.636},{"level":2.5,"part":"f","t":25.72,"y":-0.578},{"level":2.5,"part":"f","t":26,"y":-0.608},{"level":2.5,"part":"f","t":26.18,"y":-0.547},{"level":2.5,"part":"f","t":26.48,"y":-0.473},{"level":2.5,"part":"f","t":26.72,"y":-0.508},{"level":2.5,"part":"f","t":27,"y":-0.558},

      {"level":3,"part":"a","t":0,"y":-0.61},{"level":3,"part":"a","t":0.17,"y":-0.675},{"level":3,"part":"a","t":0.32,"y":-0.722},{"level":3,"part":"a","t":0.49,"y":-0.68},{"level":3,"part":"a","t":0.69,"y":-0.656},{"level":3,"part":"a","t":0.86,"y":-0.68},{"level":3,"part":"a","t":1,"y":-0.708},{"level":3,"part":"a","t":1.18,"y":-0.658},{"level":3,"part":"a","t":1.38,"y":-0.648},{"level":3,"part":"a","t":1.61,"y":-0.675},{"level":3,"part":"a","t":1.84,"y":-0.747},{"level":3,"part":"a","t":2.01,"y":-0.858},{"level":3,"part":"a","t":2.21,"y":-1},
      {"level":3,"part":"b","t":3.47,"y":-1},{"level":3,"part":"b","t":3.62,"y":-0.83},{"level":3,"part":"b","t":3.79,"y":-0.758},{"level":3,"part":"b","t":3.96,"y":-0.75},{"level":3,"part":"b","t":4.13,"y":-0.69},{"level":3,"part":"b","t":4.31,"y":-0.675},{"level":3,"part":"b","t":4.48,"y":-0.7},{"level":3,"part":"b","t":4.65,"y":-0.636},{"level":3,"part":"b","t":4.79,"y":-0.592},{"level":3,"part":"b","t":4.94,"y":-0.595},{"level":3,"part":"b","t":5.17,"y":-0.592},{"level":3,"part":"b","t":5.4,"y":-0.62},{"level":3,"part":"b","t":5.57,"y":-0.69},{"level":3,"part":"b","t":5.74,"y":-0.858},{"level":3,"part":"b","t":5.91,"y":-1},
      {"level":3,"part":"c","t":6,"y":-1},{"level":3,"part":"c","t":6.11,"y":-0.914},{"level":3,"part":"c","t":6.26,"y":-0.803},{"level":3,"part":"c","t":6.37,"y":-0.697},{"level":3,"part":"c","t":6.54,"y":-0.678},{"level":3,"part":"c","t":6.72,"y":-0.708},{"level":3,"part":"c","t":6.83,"y":-0.814},{"level":3,"part":"c","t":6.95,"y":-0.914},{"level":3,"part":"c","t":7,"y":-1},
      {"level":3,"part":"d","t":9.64,"y":-1},{"level":3,"part":"d","t":9.82,"y":-0.881},{"level":3,"part":"d","t":10.04,"y":-0.842},{"level":3,"part":"d","t":10.19,"y":-0.764},{"level":3,"part":"d","t":10.36,"y":-0.697},{"level":3,"part":"d","t":10.56,"y":-0.679},{"level":3,"part":"d","t":10.79,"y":-0.719},{"level":3,"part":"d","t":11.01,"y":-0.797},{"level":3,"part":"d","t":11.14,"y":-0.753},{"level":3,"part":"d","t":11.31,"y":-0.735},{"level":3,"part":"d","t":11.51,"y":-0.758},{"level":3,"part":"d","t":11.77,"y":-0.847},{"level":3,"part":"d","t":12,"y":-0.892},{"level":3,"part":"d","t":12.17,"y":-0.869},{"level":3,"part":"d","t":12.4,"y":-0.839},{"level":3,"part":"d","t":12.69,"y":-0.85},{"level":3,"part":"d","t":13.03,"y":-0.872},{"level":3,"part":"d","t":13.32,"y":-0.842},{"level":3,"part":"d","t":13.66,"y":-0.772},{"level":3,"part":"d","t":13.89,"y":-0.803},{"level":3,"part":"d","t":14.12,"y":-0.842},{"level":3,"part":"d","t":14.29,"y":-0.892},{"level":3,"part":"d","t":14.44,"y":-1},
      {"level":3,"part":"e","t":16.39,"y":-1},{"level":3,"part":"e","t":16.47,"y":-0.886},{"level":3,"part":"e","t":16.65,"y":-0.786},{"level":3,"part":"e","t":16.82,"y":-0.746},{"level":3,"part":"e","t":17.02,"y":-0.747},{"level":3,"part":"e","t":17.16,"y":-0.681},{"level":3,"part":"e","t":17.34,"y":-0.603},{"level":3,"part":"e","t":17.54,"y":-0.581},{"level":3,"part":"e","t":17.74,"y":-0.608},{"level":3,"part":"e","t":17.91,"y":-0.681},{"level":3,"part":"e","t":18.02,"y":-0.728},{"level":3,"part":"e","t":18.2,"y":-0.713},{"level":3,"part":"e","t":18.37,"y":-0.758},{"level":3,"part":"e","t":18.57,"y":-0.858},{"level":3,"part":"e","t":18.75,"y":-0.925},{"level":3,"part":"e","t":18.91,"y":-1},
      {"level":3,"part":"f","t":22.59,"y":-1},{"level":3,"part":"f","t":22.82,"y":-0.869},{"level":3,"part":"f","t":23.02,"y":-0.831},{"level":3,"part":"f","t":23.25,"y":-0.775},{"level":3,"part":"f","t":23.53,"y":-0.752},{"level":3,"part":"f","t":23.76,"y":-0.786},{"level":3,"part":"f","t":24.02,"y":-0.836},{"level":3,"part":"f","t":24.19,"y":-0.833},{"level":3,"part":"f","t":24.4,"y":-0.881},{"level":3,"part":"f","t":24.63,"y":-0.953},{"level":3,"part":"f","t":24.91,"y":-0.992},{"level":3,"part":"f","t":24.95,"y":-1},
      {"level":3,"part":"g","t":24.97,"y":-1},{"level":3,"part":"g","t":25.2,"y":-0.858},{"level":3,"part":"g","t":25.43,"y":-0.719},{"level":3,"part":"g","t":25.6,"y":-0.653},{"level":3,"part":"g","t":25.77,"y":-0.647},{"level":3,"part":"g","t":26,"y":-0.669},{"level":3,"part":"g","t":26.23,"y":-0.597},{"level":3,"part":"g","t":26.49,"y":-0.544},{"level":3,"part":"g","t":26.81,"y":-0.581},{"level":3,"part":"g","t":27,"y":-0.63},

      {"level":3.5,"part":"a","t":0,"y":-0.67},{"level":3.5,"part":"a","t":0.17,"y":-0.736},{"level":3.5,"part":"a","t":0.29,"y":-0.77},{"level":3.5,"part":"a","t":0.49,"y":-0.73},{"level":3.5,"part":"a","t":0.69,"y":-0.711},{"level":3.5,"part":"a","t":0.86,"y":-0.736},{"level":3.5,"part":"a","t":1,"y":-0.764},{"level":3.5,"part":"a","t":1.15,"y":-0.728},{"level":3.5,"part":"a","t":1.29,"y":-0.717},{"level":3.5,"part":"a","t":1.49,"y":-0.747},{"level":3.5,"part":"a","t":1.72,"y":-0.82},{"level":3.5,"part":"a","t":1.89,"y":-0.914},{"level":3.5,"part":"a","t":2.07,"y":-1},
      {"level":3.5,"part":"b","t":3.56,"y":-1},{"level":3.5,"part":"b","t":3.67,"y":-0.869},{"level":3.5,"part":"b","t":3.85,"y":-0.803},{"level":3.5,"part":"b","t":4.02,"y":-0.792},{"level":3.5,"part":"b","t":4.16,"y":-0.747},{"level":3.5,"part":"b","t":4.31,"y":-0.725},{"level":3.5,"part":"b","t":4.48,"y":-0.753},{"level":3.5,"part":"b","t":4.62,"y":-0.692},{"level":3.5,"part":"b","t":4.76,"y":-0.656},{"level":3.5,"part":"b","t":4.94,"y":-0.653},{"level":3.5,"part":"b","t":5.17,"y":-0.653},{"level":3.5,"part":"b","t":5.4,"y":-0.68},{"level":3.5,"part":"b","t":5.57,"y":-0.775},{"level":3.5,"part":"b","t":5.71,"y":-0.886},{"level":3.5,"part":"b","t":5.85,"y":-1},
      {"level":3.5,"part":"c","t":6.08,"y":-1},{"level":3.5,"part":"c","t":6.17,"y":-0.914},{"level":3.5,"part":"c","t":6.29,"y":-0.83},{"level":3.5,"part":"c","t":6.37,"y":-0.758},{"level":3.5,"part":"c","t":6.54,"y":-0.73},{"level":3.5,"part":"c","t":6.69,"y":-0.758},{"level":3.5,"part":"c","t":6.8,"y":-0.836},{"level":3.5,"part":"c","t":6.92,"y":-0.942},{"level":3.5,"part":"c","t":6.95,"y":-1},
      {"level":3.5,"part":"d","t":9.73,"y":-1},{"level":3.5,"part":"d","t":9.87,"y":-0.892},{"level":3.5,"part":"d","t":10.1,"y":-0.858},{"level":3.5,"part":"d","t":10.33,"y":-0.775},{"level":3.5,"part":"d","t":10.59,"y":-0.747},{"level":3.5,"part":"d","t":10.82,"y":-0.786},{"level":3.5,"part":"d","t":11.02,"y":-0.831},{"level":3.5,"part":"d","t":11.31,"y":-0.789},{"level":3.5,"part":"d","t":11.54,"y":-0.825},{"level":3.5,"part":"d","t":11.74,"y":-0.903},{"level":3.5,"part":"d","t":12,"y":-0.936},{"level":3.5,"part":"d","t":12.23,"y":-0.914},{"level":3.5,"part":"d","t":12.6,"y":-0.886},{"level":3.5,"part":"d","t":12.86,"y":-0.897},{"level":3.5,"part":"d","t":13.09,"y":-0.908},{"level":3.5,"part":"d","t":13.43,"y":-0.869},{"level":3.5,"part":"d","t":13.75,"y":-0.842},{"level":3.5,"part":"d","t":13.98,"y":-0.869},{"level":3.5,"part":"d","t":14.21,"y":-0.925},{"level":3.5,"part":"d","t":14.35,"y":-1},
      {"level":3.5,"part":"e","t":16.47,"y":-1},{"level":3.5,"part":"e","t":16.53,"y":-0.914},{"level":3.5,"part":"e","t":16.68,"y":-0.831},{"level":3.5,"part":"e","t":16.85,"y":-0.794},{"level":3.5,"part":"e","t":17.02,"y":-0.797},{"level":3.5,"part":"e","t":17.19,"y":-0.731},{"level":3.5,"part":"e","t":17.34,"y":-0.664},{"level":3.5,"part":"e","t":17.52,"y":-0.644},{"level":3.5,"part":"e","t":17.71,"y":-0.669},{"level":3.5,"part":"e","t":17.88,"y":-0.736},{"level":3.5,"part":"e","t":18.02,"y":-0.786},{"level":3.5,"part":"e","t":18.18,"y":-0.763},{"level":3.5,"part":"e","t":18.37,"y":-0.814},{"level":3.5,"part":"e","t":18.57,"y":-0.903},{"level":3.5,"part":"e","t":18.83,"y":-1},
      {"level":3.5,"part":"f","t":22.73,"y":-1},{"level":3.5,"part":"f","t":22.9,"y":-0.881},{"level":3.5,"part":"f","t":23.19,"y":-0.853},{"level":3.5,"part":"f","t":23.59,"y":-0.828},{"level":3.5,"part":"f","t":23.88,"y":-0.858},{"level":3.5,"part":"f","t":24.17,"y":-0.886},{"level":3.5,"part":"f","t":24.4,"y":-0.942},{"level":3.5,"part":"f","t":24.63,"y":-1},
      {"level":3.5,"part":"g","t":25.08,"y":-1},{"level":3.5,"part":"g","t":25.26,"y":-0.858},{"level":3.5,"part":"g","t":25.49,"y":-0.747},{"level":3.5,"part":"g","t":25.66,"y":-0.708},{"level":3.5,"part":"g","t":25.77,"y":-0.706},{"level":3.5,"part":"g","t":26,"y":-0.736},{"level":3.5,"part":"g","t":26.23,"y":-0.653},{"level":3.5,"part":"g","t":26.49,"y":-0.603},{"level":3.5,"part":"g","t":26.81,"y":-0.653},{"level":3.5,"part":"g","t":27,"y":-0.72},

      {"level":4,"part":"a","t":0,"y":-0.725},{"level":4,"part":"a","t":0.2,"y":-0.77},{"level":4,"part":"a","t":0.29,"y":-0.797},{"level":4,"part":"a","t":0.46,"y":-0.764},{"level":4,"part":"a","t":0.69,"y":-0.756},{"level":4,"part":"a","t":0.86,"y":-0.775},{"level":4,"part":"a","t":1,"y":-0.797},{"level":4,"part":"a","t":1.23,"y":-0.775},{"level":4,"part":"a","t":1.44,"y":-0.808},{"level":4,"part":"a","t":1.66,"y":-0.886},{"level":4,"part":"a","t":1.84,"y":-0.947},{"level":4,"part":"a","t":1.95,"y":-1},
      {"level":4,"part":"b","t":3.62,"y":-1},{"level":4,"part":"b","t":3.73,"y":-0.897},{"level":4,"part":"b","t":3.9,"y":-0.847},{"level":4,"part":"b","t":4.13,"y":-0.814},{"level":4,"part":"b","t":4.31,"y":-0.769},{"level":4,"part":"b","t":4.51,"y":-0.797},{"level":4,"part":"b","t":4.65,"y":-0.742},{"level":4,"part":"b","t":4.82,"y":-0.694},{"level":4,"part":"b","t":4.94,"y":-0.706},{"level":4,"part":"b","t":5.17,"y":-0.697},{"level":4,"part":"b","t":5.34,"y":-0.73},{"level":4,"part":"b","t":5.51,"y":-0.836},{"level":4,"part":"b","t":5.68,"y":-0.958},{"level":4,"part":"b","t":5.74,"y":-1},
      {"level":4,"part":"c","t":6.14,"y":-1},{"level":4,"part":"c","t":6.2,"y":-0.942},{"level":4,"part":"c","t":6.29,"y":-0.858},{"level":4,"part":"c","t":6.37,"y":-0.792},{"level":4,"part":"c","t":6.51,"y":-0.769},{"level":4,"part":"c","t":6.66,"y":-0.78},{"level":4,"part":"c","t":6.77,"y":-0.853},{"level":4,"part":"c","t":6.86,"y":-0.942},{"level":4,"part":"c","t":6.9,"y":-1},
      {"level":4,"part":"d","t":9.79,"y":-1},{"level":4,"part":"d","t":9.93,"y":-0.914},{"level":4,"part":"d","t":10.22,"y":-0.881},{"level":4,"part":"d","t":10.45,"y":-0.819},{"level":4,"part":"d","t":10.65,"y":-0.806},{"level":4,"part":"d","t":10.85,"y":-0.83},{"level":4,"part":"d","t":11.02,"y":-0.844},{"level":4,"part":"d","t":11.25,"y":-0.853},{"level":4,"part":"d","t":11.48,"y":-0.881},{"level":4,"part":"d","t":11.77,"y":-0.936},{"level":4,"part":"d","t":12,"y":-0.969},{"level":4,"part":"d","t":12.17,"y":-0.975},{"level":4,"part":"d","t":12.4,"y":-0.956},{"level":4,"part":"d","t":12.66,"y":-0.918},{"level":4,"part":"d","t":12.91,"y":-0.939},{"level":4,"part":"d","t":13.14,"y":-0.953},{"level":4,"part":"d","t":13.49,"y":-0.908},{"level":4,"part":"d","t":13.75,"y":-0.883},{"level":4,"part":"d","t":14.01,"y":-0.914},{"level":4,"part":"d","t":14.15,"y":-0.953},{"level":4,"part":"d","t":14.24,"y":-1},
      {"level":4,"part":"e","t":16.56,"y":-1},{"level":4,"part":"e","t":16.59,"y":-0.958},{"level":4,"part":"e","t":16.73,"y":-0.869},{"level":4,"part":"e","t":16.88,"y":-0.828},{"level":4,"part":"e","t":17.02,"y":-0.831},{"level":4,"part":"e","t":17.19,"y":-0.781},{"level":4,"part":"e","t":17.34,"y":-0.731},{"level":4,"part":"e","t":17.52,"y":-0.706},{"level":4,"part":"e","t":17.71,"y":-0.731},{"level":4,"part":"e","t":17.85,"y":-0.786},{"level":4,"part":"e","t":18.02,"y":-0.814},{"level":4,"part":"e","t":18.2,"y":-0.808},{"level":4,"part":"e","t":18.37,"y":-0.847},{"level":4,"part":"e","t":18.57,"y":-0.925},{"level":4,"part":"e","t":18.76,"y":-1},
      {"level":4,"part":"f","t":22.85,"y":-1},{"level":4,"part":"f","t":22.96,"y":-0.914},{"level":4,"part":"f","t":23.48,"y":-0.903},{"level":4,"part":"f","t":24,"y":-0.897},{"level":4,"part":"f","t":24.14,"y":-0.942},{"level":4,"part":"f","t":24.28,"y":-1},
      {"level":4,"part":"g","t":25.2,"y":-1},{"level":4,"part":"g","t":25.37,"y":-0.886},{"level":4,"part":"g","t":25.6,"y":-0.764},{"level":4,"part":"g","t":25.77,"y":-0.758},{"level":4,"part":"g","t":26,"y":-0.786},{"level":4,"part":"g","t":26.23,"y":-0.703},{"level":4,"part":"g","t":26.49,"y":-0.658},{"level":4,"part":"g","t":26.81,"y":-0.714},{"level":4,"part":"g","t":27,"y":-0.77},

      {"level":4.5,"part":"a","t":0,"y":-0.769},{"level":4.5,"part":"a","t":0.17,"y":-0.803},{"level":4.5,"part":"a","t":0.32,"y":-0.836},{"level":4.5,"part":"a","t":0.52,"y":-0.811},{"level":4.5,"part":"a","t":0.72,"y":-0.801},{"level":4.5,"part":"a","t":0.89,"y":-0.814},{"level":4.5,"part":"a","t":1.02,"y":-0.833},{"level":4.5,"part":"a","t":1.21,"y":-0.822},{"level":4.5,"part":"a","t":1.38,"y":-0.847},{"level":4.5,"part":"a","t":1.52,"y":-0.903},{"level":4.5,"part":"a","t":1.66,"y":-0.964},{"level":4.5,"part":"a","t":1.75,"y":-1},
      {"level":4.5,"part":"b","t":3.67,"y":-1},{"level":4.5,"part":"b","t":3.76,"y":-0.914},{"level":4.5,"part":"b","t":3.9,"y":-0.869},{"level":4.5,"part":"b","t":4.08,"y":-0.842},{"level":4.5,"part":"b","t":4.31,"y":-0.808},{"level":4.5,"part":"b","t":4.51,"y":-0.819},{"level":4.5,"part":"b","t":4.65,"y":-0.764},{"level":4.5,"part":"b","t":4.79,"y":-0.735},{"level":4.5,"part":"b","t":4.91,"y":-0.744},{"level":4.5,"part":"b","t":5.02,"y":-0.764},{"level":4.5,"part":"b","t":5.17,"y":-0.744},{"level":4.5,"part":"b","t":5.31,"y":-0.775},{"level":4.5,"part":"b","t":5.45,"y":-0.858},{"level":4.5,"part":"b","t":5.57,"y":-0.958},{"level":4.5,"part":"b","t":5.65,"y":-1},
      {"level":4.5,"part":"c","t":6.17,"y":-1},{"level":4.5,"part":"c","t":6.29,"y":-0.869},{"level":4.5,"part":"c","t":6.37,"y":-0.819},{"level":4.5,"part":"c","t":6.51,"y":-0.811},{"level":4.5,"part":"c","t":6.63,"y":-0.808},{"level":4.5,"part":"c","t":6.72,"y":-0.853},{"level":4.5,"part":"c","t":6.8,"y":-0.925},{"level":4.5,"part":"c","t":6.86,"y":-1},
      {"level":4.5,"part":"d","t":9.88,"y":-1},{"level":4.5,"part":"d","t":9.99,"y":-0.931},{"level":4.5,"part":"d","t":10.22,"y":-0.908},{"level":4.5,"part":"d","t":10.5,"y":-0.869},{"level":4.5,"part":"d","t":10.73,"y":-0.857},{"level":4.5,"part":"d","t":10.96,"y":-0.869},{"level":4.5,"part":"d","t":11.16,"y":-0.875},{"level":4.5,"part":"d","t":11.31,"y":-0.903},{"level":4.5,"part":"d","t":11.48,"y":-0.953},{"level":4.5,"part":"d","t":11.62,"y":-1},
      {"level":4.5,"part":"d2","t":12.46,"y":-1},{"level":4.5,"part":"d2","t":12.57,"y":-0.964},{"level":4.5,"part":"d2","t":12.66,"y":-0.947},{"level":4.5,"part":"d2","t":12.77,"y":-0.969},{"level":4.5,"part":"d2","t":12.89,"y":-0.983},{"level":4.5,"part":"d2","t":13,"y":-0.983},{"level":4.5,"part":"d2","t":13.09,"y":-1},
      {"level":4.5,"part":"d3","t":13.57,"y":-1},{"level":4.5,"part":"d3","t":13.78,"y":-0.953},{"level":4.5,"part":"d3","t":13.98,"y":-0.931},{"level":4.5,"part":"d3","t":14.06,"y":-0.953},{"level":4.5,"part":"d3","t":14.12,"y":-1},
      {"level":4.5,"part":"e","t":16.65,"y":-1},{"level":4.5,"part":"e","t":16.76,"y":-0.914},{"level":4.5,"part":"e","t":16.88,"y":-0.869},{"level":4.5,"part":"e","t":17.02,"y":-0.853},{"level":4.5,"part":"e","t":17.11,"y":-0.825},{"level":4.5,"part":"e","t":17.31,"y":-0.786},{"level":4.5,"part":"e","t":17.54,"y":-0.764},{"level":4.5,"part":"e","t":17.74,"y":-0.792},{"level":4.5,"part":"e","t":17.91,"y":-0.825},{"level":4.5,"part":"e","t":18.02,"y":-0.843},{"level":4.5,"part":"e","t":18.2,"y":-0.842},{"level":4.5,"part":"e","t":18.37,"y":-0.875},{"level":4.5,"part":"e","t":18.57,"y":-0.931},{"level":4.5,"part":"e","t":18.68,"y":-1},
      {"level":4.5,"part":"f","t":22.92,"y":-1},{"level":4.5,"part":"f","t":22.96,"y":-0.958},{"level":4.5,"part":"f","t":23.05,"y":-0.951},{"level":4.5,"part":"f","t":23.22,"y":-0.975},{"level":4.5,"part":"f","t":23.42,"y":-0.983},{"level":4.5,"part":"f","t":23.65,"y":-0.969},{"level":4.5,"part":"f","t":23.99,"y":-0.934},{"level":4.5,"part":"f","t":24.08,"y":-0.964},{"level":4.5,"part":"f","t":24.2,"y":-1},
      {"level":4.5,"part":"g","t":25.31,"y":-1},{"level":4.5,"part":"g","t":25.49,"y":-0.886},{"level":4.5,"part":"g","t":25.63,"y":-0.819},{"level":4.5,"part":"g","t":25.8,"y":-0.797},{"level":4.5,"part":"g","t":26,"y":-0.817},{"level":4.5,"part":"g","t":26.18,"y":-0.764},{"level":4.5,"part":"g","t":26.49,"y":-0.714},{"level":4.5,"part":"g","t":26.75,"y":-0.747},{"level":4.5,"part":"g","t":26.95,"y":-0.797},{"level":4.5,"part":"g","t":27,"y":-0.811},

      {"level":5,"part":"a","t":0,"y":-0.815},{"level":5,"part":"a","t":0.3,"y":-0.86},{"level":5,"part":"a","t":0.7,"y":-0.85},{"level":5,"part":"a","t":1.1,"y":-0.865},{"level":5,"part":"a","t":1.35,"y":-0.88},{"level":5,"part":"a","t":1.5,"y":-0.94},{"level":5,"part":"a","t":1.62,"y":-1},
      {"level":5,"part":"b","t":3.82,"y":-1},{"level":5,"part":"b","t":3.9,"y":-0.94},{"level":5,"part":"b","t":4.1,"y":-0.89},{"level":5,"part":"b","t":4.4,"y":-0.84},{"level":5,"part":"b","t":4.7,"y":-0.81},{"level":5,"part":"b","t":5,"y":-0.8},{"level":5,"part":"b","t":5.2,"y":-0.8},{"level":5,"part":"b","t":5.35,"y":-0.87},{"level":5,"part":"b","t":5.45,"y":-0.95},{"level":5,"part":"b","t":5.52,"y":-1},
      {"level":5,"part":"c","t":6.22,"y":-1},{"level":5,"part":"c","t":6.3,"y":-0.9},{"level":5,"part":"c","t":6.4,"y":-0.85},{"level":5,"part":"c","t":6.55,"y":-0.84},{"level":5,"part":"c","t":6.68,"y":-0.87},{"level":5,"part":"c","t":6.75,"y":-0.95},{"level":5,"part":"c","t":6.8,"y":-1},
      {"level":5,"part":"d","t":10.05,"y":-1},{"level":5,"part":"d","t":10.2,"y":-0.94},{"level":5,"part":"d","t":10.6,"y":-0.885},{"level":5,"part":"d","t":10.85,"y":-0.88},{"level":5,"part":"d","t":11.15,"y":-0.91},{"level":5,"part":"d","t":11.4,"y":-1},
      {"level":5,"part":"d2","t":12.55,"y":-1},{"level":5,"part":"d2","t":12.66,"y":-0.96},{"level":5,"part":"d2","t":12.8,"y":-1},
      {"level":5,"part":"d3","t":13.8,"y":-1},{"level":5,"part":"d3","t":13.98,"y":-0.95},{"level":5,"part":"d3","t":14.08,"y":-1},
      {"level":5,"part":"e","t":16.8,"y":-1},{"level":5,"part":"e","t":16.95,"y":-0.91},{"level":5,"part":"e","t":17.2,"y":-0.86},{"level":5,"part":"e","t":17.5,"y":-0.83},{"level":5,"part":"e","t":17.8,"y":-0.85},{"level":5,"part":"e","t":18.1,"y":-0.89},{"level":5,"part":"e","t":18.35,"y":-0.93},{"level":5,"part":"e","t":18.55,"y":-1},
      {"level":5,"part":"g","t":25.65,"y":-1},{"level":5,"part":"g","t":25.8,"y":-0.88},{"level":5,"part":"g","t":25.95,"y":-0.86},{"level":5,"part":"g","t":26.2,"y":-0.82},{"level":5,"part":"g","t":26.5,"y":-0.78},{"level":5,"part":"g","t":26.8,"y":-0.8},{"level":5,"part":"g","t":27,"y":-0.84},

      {"level":5.5,"part":"a","t":0,"y":-0.84},{"level":5.5,"part":"a","t":0.3,"y":-0.885},{"level":5.5,"part":"a","t":0.7,"y":-0.88},{"level":5.5,"part":"a","t":1.1,"y":-0.895},{"level":5.5,"part":"a","t":1.3,"y":-0.92},{"level":5.5,"part":"a","t":1.4,"y":-0.96},{"level":5.5,"part":"a","t":1.5,"y":-1},
      {"level":5.5,"part":"b","t":3.88,"y":-1},{"level":5.5,"part":"b","t":4.1,"y":-0.93},{"level":5.5,"part":"b","t":4.4,"y":-0.87},{"level":5.5,"part":"b","t":4.7,"y":-0.84},{"level":5.5,"part":"b","t":5,"y":-0.825},{"level":5.5,"part":"b","t":5.25,"y":-0.85},{"level":5.5,"part":"b","t":5.38,"y":-0.95},{"level":5.5,"part":"b","t":5.42,"y":-1},
      {"level":5.5,"part":"c","t":6.25,"y":-1},{"level":5.5,"part":"c","t":6.33,"y":-0.91},{"level":5.5,"part":"c","t":6.45,"y":-0.87},{"level":5.5,"part":"c","t":6.55,"y":-0.86},{"level":5.5,"part":"c","t":6.66,"y":-0.9},{"level":5.5,"part":"c","t":6.73,"y":-1},
      {"level":5.5,"part":"d","t":10.5,"y":-1},{"level":5.5,"part":"d","t":10.8,"y":-0.93},{"level":5.5,"part":"d","t":11,"y":-0.9},{"level":5.5,"part":"d","t":11.15,"y":-0.95},{"level":5.5,"part":"d","t":11.25,"y":-1},
      {"level":5.5,"part":"e","t":16.85,"y":-1},{"level":5.5,"part":"e","t":17,"y":-0.94},{"level":5.5,"part":"e","t":17.25,"y":-0.9},{"level":5.5,"part":"e","t":17.5,"y":-0.88},{"level":5.5,"part":"e","t":17.8,"y":-0.89},{"level":5.5,"part":"e","t":18.1,"y":-0.92},{"level":5.5,"part":"e","t":18.3,"y":-0.96},{"level":5.5,"part":"e","t":18.45,"y":-1},
      {"level":5.5,"part":"g","t":25.75,"y":-1},{"level":5.5,"part":"g","t":25.9,"y":-0.92},{"level":5.5,"part":"g","t":26.2,"y":-0.87},{"level":5.5,"part":"g","t":26.5,"y":-0.83},{"level":5.5,"part":"g","t":26.8,"y":-0.84},{"level":5.5,"part":"g","t":27,"y":-0.87},

      {"level":6,"part":"a","t":0,"y":-0.86},{"level":6,"part":"a","t":0.3,"y":-0.915},{"level":6,"part":"a","t":0.7,"y":-0.915},{"level":6,"part":"a","t":1.1,"y":-0.92},{"level":6,"part":"a","t":1.25,"y":-0.96},{"level":6,"part":"a","t":1.35,"y":-1},
      {"level":6,"part":"b","t":3.95,"y":-1},{"level":6,"part":"b","t":4.2,"y":-0.95},{"level":6,"part":"b","t":4.5,"y":-0.895},{"level":6,"part":"b","t":4.75,"y":-0.855},{"level":6,"part":"b","t":5,"y":-0.84},{"level":6,"part":"b","t":5.2,"y":-0.86},{"level":6,"part":"b","t":5.35,"y":-0.95},{"level":6,"part":"b","t":5.4,"y":-1},
      {"level":6,"part":"c","t":6.3,"y":-1},{"level":6,"part":"c","t":6.38,"y":-0.92},{"level":6,"part":"c","t":6.5,"y":-0.88},{"level":6,"part":"c","t":6.6,"y":-0.89},{"level":6,"part":"c","t":6.7,"y":-1},
      {"level":6,"part":"d","t":10.85,"y":-1},{"level":6,"part":"d","t":11,"y":-0.93},{"level":6,"part":"d","t":11.08,"y":-1},
      {"level":6,"part":"e","t":16.9,"y":-1},{"level":6,"part":"e","t":17.05,"y":-0.97},{"level":6,"part":"e","t":17.3,"y":-0.94},{"level":6,"part":"e","t":17.55,"y":-0.93},{"level":6,"part":"e","t":17.8,"y":-0.93},{"level":6,"part":"e","t":18.1,"y":-0.95},{"level":6,"part":"e","t":18.3,"y":-1},
      {"level":6,"part":"g","t":25.85,"y":-1},{"level":6,"part":"g","t":26,"y":-0.93},{"level":6,"part":"g","t":26.2,"y":-0.9},{"level":6,"part":"g","t":26.5,"y":-0.87},{"level":6,"part":"g","t":27,"y":-0.89},

      {"level":6.5,"part":"a","t":0,"y":-0.87},{"level":6.5,"part":"a","t":0.2,"y":-0.92},{"level":6.5,"part":"a","t":0.4,"y":-0.95},{"level":6.5,"part":"a","t":0.7,"y":-0.96},{"level":6.5,"part":"a","t":0.95,"y":-0.94},{"level":6.5,"part":"a","t":1.1,"y":-0.945},{"level":6.5,"part":"a","t":1.2,"y":-0.97},{"level":6.5,"part":"a","t":1.25,"y":-1},
      {"level":6.5,"part":"b","t":4,"y":-1},{"level":6.5,"part":"b","t":4.25,"y":-0.96},{"level":6.5,"part":"b","t":4.5,"y":-0.91},{"level":6.5,"part":"b","t":4.75,"y":-0.87},{"level":6.5,"part":"b","t":5,"y":-0.855},{"level":6.5,"part":"b","t":5.2,"y":-0.875},{"level":6.5,"part":"b","t":5.32,"y":-1},
      {"level":6.5,"part":"c","t":6.32,"y":-1},{"level":6.5,"part":"c","t":6.4,"y":-0.92},{"level":6.5,"part":"c","t":6.5,"y":-0.895},{"level":6.5,"part":"c","t":6.6,"y":-0.91},{"level":6.5,"part":"c","t":6.68,"y":-1},
      {"level":6.5,"part":"d","t":10.95,"y":-1},{"level":6.5,"part":"d","t":11,"y":-0.96},{"level":6.5,"part":"d","t":11.05,"y":-1},
      {"level":6.5,"part":"e","t":17,"y":-1},{"level":6.5,"part":"e","t":17.2,"y":-0.975},{"level":6.5,"part":"e","t":17.5,"y":-0.965},{"level":6.5,"part":"e","t":17.8,"y":-0.965},{"level":6.5,"part":"e","t":18.2,"y":-1},
      {"level":6.5,"part":"g","t":25.95,"y":-1},{"level":6.5,"part":"g","t":26.05,"y":-0.93},{"level":6.5,"part":"g","t":26.2,"y":-0.91},{"level":6.5,"part":"g","t":26.5,"y":-0.9},{"level":6.5,"part":"g","t":27,"y":-0.905},

      {"level":7,"part":"a","t":0,"y":-0.875},{"level":7,"part":"a","t":0.17,"y":-0.914},{"level":7,"part":"a","t":0.32,"y":-0.964},{"level":7,"part":"a","t":0.49,"y":-1},
      {"level":7,"part":"a2","t":0.77,"y":-1},{"level":7,"part":"a2","t":0.92,"y":-0.964},{"level":7,"part":"a2","t":1,"y":-0.953},{"level":7,"part":"a2","t":1.09,"y":-0.975},{"level":7,"part":"a2","t":1.12,"y":-1},
      {"level":7,"part":"b","t":3.99,"y":-1},{"level":7,"part":"b","t":4.05,"y":-0.98},{"level":7,"part":"b","t":4.13,"y":-0.989},{"level":7,"part":"b","t":4.28,"y":-0.969},{"level":7,"part":"b","t":4.39,"y":-0.936},{"level":7,"part":"b","t":4.53,"y":-0.919},{"level":7,"part":"b","t":4.76,"y":-0.886},{"level":7,"part":"b","t":4.94,"y":-0.874},{"level":7,"part":"b","t":5.11,"y":-0.886},{"level":7,"part":"b","t":5.17,"y":-0.903},{"level":7,"part":"b","t":5.25,"y":-0.953},{"level":7,"part":"b","t":5.34,"y":-1},
      {"level":7,"part":"c","t":6.37,"y":-1},{"level":7,"part":"c","t":6.42,"y":-0.942},{"level":7,"part":"c","t":6.51,"y":-0.911},{"level":7,"part":"c","t":6.6,"y":-0.936},{"level":7,"part":"c","t":6.66,"y":-1},
      {"level":7,"part":"d","t":10.98,"y":-1},{"level":7,"part":"d","t":11,"y":-0.985},{"level":7,"part":"d","t":11.03,"y":-1},
      {"level":7,"part":"e","t":16.96,"y":-1},{"level":7,"part":"e","t":16.99,"y":-0.975},{"level":7,"part":"e","t":17.05,"y":-0.975},{"level":7,"part":"e","t":17.09,"y":-1},
      {"level":7,"part":"e2","t":17.82,"y":-1},{"level":7,"part":"e2","t":17.94,"y":-0.964},{"level":7,"part":"e2","t":18.01,"y":-0.95},{"level":7,"part":"e2","t":18.08,"y":-0.964},{"level":7,"part":"e2","t":18.15,"y":-1},
      {"level":7,"part":"g","t":25.77,"y":-1},{"level":7,"part":"g","t":25.89,"y":-0.947},{"level":7,"part":"g","t":25.97,"y":-0.917},{"level":7,"part":"g","t":26.09,"y":-0.917},{"level":7,"part":"g","t":26.29,"y":-0.936},{"level":7,"part":"g","t":26.52,"y":-0.944},{"level":7,"part":"g","t":26.75,"y":-0.933},{"level":7,"part":"g","t":26.95,"y":-0.911},{"level":7,"part":"g","t":27,"y":-0.911},

      {"level":7.5,"part":"a","t":0,"y":-0.93},{"level":7.5,"part":"a","t":0.08,"y":-0.96},{"level":7.5,"part":"a","t":0.16,"y":-1},
      {"level":7.5,"part":"b","t":4.6,"y":-1},{"level":7.5,"part":"b","t":4.85,"y":-0.95},{"level":7.5,"part":"b","t":5,"y":-0.93},{"level":7.5,"part":"b","t":5.1,"y":-0.96},{"level":7.5,"part":"b","t":5.2,"y":-1},
      {"level":7.5,"part":"c","t":6.4,"y":-1},{"level":7.5,"part":"c","t":6.45,"y":-0.97},{"level":7.5,"part":"c","t":6.6,"y":-0.97},{"level":7.5,"part":"c","t":6.65,"y":-1},
      {"level":7.5,"part":"g","t":25.85,"y":-1},{"level":7.5,"part":"g","t":26,"y":-0.96},{"level":7.5,"part":"g","t":26.5,"y":-0.975},{"level":7.5,"part":"g","t":27,"y":-0.96},

      {"level":9.5,"part":"b","t":4.94,"y":-1},{"level":9.5,"part":"b","t":4.99,"y":-0.964},{"level":9.5,"part":"b","t":5.05,"y":-1}
    ],
    "bands": [
      {"low":-0.5,"high":0,"label":"-0.5"},{"low":0,"high":0.5,"label":"0"},{"low":0.5,"high":1,"label":"0.5"},{"low":1,"high":1.5,"label":"1"},{"low":1.5,"high":2,"label":"1.5"},{"low":2,"high":2.5,"label":"2"},{"low":2.5,"high":3,"label":"2.5"},{"low":3,"high":3.5,"label":"3"},{"low":3.5,"high":4,"label":"3.5"},{"low":4,"high":4.5,"label":"4"},{"low":4.5,"high":5,"label":"4.5"},{"low":5,"high":5.5,"label":"5"},{"low":5.5,"high":6,"label":"5.5"},{"low":6,"high":6.5,"label":"6"},{"low":6.5,"high":7,"label":"6.5"},{"low":7,"high":7.5,"label":"7"},{"low":7.5,"high":8,"label":"7.5"},{"low":8,"high":8.5,"label":"8"},{"low":8.5,"high":9,"label":"8.5"},{"low":9,"high":9.5,"label":"9"},{"low":9.5,"high":10,"label":"9.5"},{"low":10,"high":10.5,"label":"10"}
    ]
  },
  "hconcat": [
    {
      "spacing": 0,
      "vconcat": [
        {
          "width": 1568,
          "height": 1,
          "data": {"values": []},
          "view": {"stroke": null},
          "mark": "point"
        },
        {
          "width": 1568,
          "height": 600,
          "view": {"fill": "#7f4fff", "stroke": null},
          "encoding": {
            "x": {
              "field": "t",
              "type": "quantitative",
              "scale": {"domain": [0, 27], "nice": false},
              "axis": {
                "title": "时间（h）",
                "titleFont": "Noto Sans CJK SC",
                "titleFontSize": 47,
                "titleFontWeight": "normal",
                "titleColor": "#555555",
                "titleX": 743,
                "titleY": 150,
                "values": [0, 5, 10, 15, 20, 25],
                "grid": false,
                "domainColor": "#333333",
                "domainWidth": 2.5,
                "tickColor": "#444444",
                "tickWidth": 2,
                "tickSize": 26,
                "labelFont": "Lato",
                "labelFontSize": 50,
                "labelFlush": false,
                "labelColor": "#555555",
                "labelPadding": 32
              }
            },
            "y": {
              "field": "y",
              "type": "quantitative",
              "stack": null,
              "scale": {"domain": [-1, 0], "nice": false},
              "axis": {
                "title": "相对水深",
                "titleFont": "Noto Sans CJK SC",
                "titleFontSize": 46,
                "titleFontWeight": "normal",
                "titleColor": "#555555",
                "titleX": -147,
                "titleY": 314,
                "values": [0, -0.5, -1],
                "labelExpr": "'' + datum.value",
                "labelFlush": false,
                "grid": false,
                "domainColor": "#333333",
                "domainWidth": 2.5,
                "tickColor": "#444444",
                "tickWidth": 2,
                "tickSize": 19,
                "labelFont": "Lato",
                "labelFontSize": 50,
                "labelColor": "#555555",
                "labelPadding": 22
              }
            }
          },
          "layer": [
            {
              "data": {"name": "pockets"},
              "mark": {"type": "area", "interpolate": "monotone", "color": "#9966ff", "strokeWidth": 0},
              "encoding": {"y2": {"datum": 0}, "detail": {"field": "part"}}
            },
            {
              "data": {"name": "pockets"},
              "mark": {"type": "line", "interpolate": "monotone", "color": "#b79cf0", "strokeWidth": 2.5},
              "encoding": {"detail": {"field": "part"}}
            },
            {
              "data": {"name": "contours"},
              "mark": {"type": "area", "interpolate": "monotone"},
              "encoding": {
                "y2": {"datum": -1},
                "detail": {"field": "part"},
                "color": {
                  "field": "level",
                  "type": "ordinal",
                  "legend": null,
                  "scale": {
                    "domain": [0.5, 1, 1.5, 2, 2.5, 3, 3.5, 4, 4.5, 5, 5.5, 6, 6.5, 7, 7.5, 9.5],
                    "range": ["#5c38ff", "#3c22ff", "#1e0cff", "#0000ff", "#0a50b0", "#00808c", "#00a860", "#00dc20", "#20ff00", "#62ff00", "#9aff00", "#dcff00", "#ffee00", "#fbc428", "#e8a860", "#c05020"]
                  }
                }
              }
            },
            {
              "data": {"name": "contours"},
              "transform": [{"filter": "datum.level < 5 || datum.level >= 7"}],
              "mark": {"type": "line", "interpolate": "monotone", "opacity": 0.75},
              "encoding": {
                "detail": {"field": "part"},
                "color": {
                  "field": "level",
                  "type": "ordinal",
                  "legend": null,
                  "scale": {
                    "domain": [0.5, 1, 1.5, 2, 2.5, 3, 3.5, 4, 4.5, 7, 7.5, 9.5],
                    "range": ["#c8b8f0", "#b8a8f0", "#a8a0f0", "#0a0a40", "#8ca8e0", "#80b0c0", "#80c0a0", "#80d890", "#0a2a0a", "#2a2000", "#e8a860", "#2a1000"]
                  }
                },
                "strokeWidth": {"value": 2.5}
              }
            }
          ],
          "resolve": {"scale": {"color": "independent"}}
        }
      ]
    },
    {
      "width": 50,
      "height": 808,
      "data": {"name": "bands"},
      "view": {"stroke": "#77707a", "strokeWidth": 2},
      "encoding": {
        "y": {
          "field": "low",
          "type": "quantitative",
          "scale": {"domain": [-0.5, 10.5], "nice": false},
          "axis": null
        }
      },
      "layer": [
        {
          "mark": {"type": "rect"},
          "encoding": {
            "y2": {"field": "high"},
            "color": {
              "field": "low",
              "type": "ordinal",
              "legend": null,
              "scale": {
                "domain": [-0.5, 0, 0.5, 1, 1.5, 2, 2.5, 3, 3.5, 4, 4.5, 5, 5.5, 6, 6.5, 7, 7.5, 8, 8.5, 9, 9.5, 10],
                "range": ["#9966ff", "#7f4fff", "#5533ff", "#2a1aff", "#0000ff", "#0028cc", "#00698c", "#00a858", "#00e020", "#1eff00", "#62ff00", "#9aff00", "#dcff00", "#ffee00", "#ffc800", "#ffa500", "#ff8000", "#ff6000", "#ff4800", "#ff3000", "#ff1c00", "#ff0000"]
              }
            }
          }
        },
        {
          "mark": {"type": "rule", "strokeWidth": 2},
          "encoding": {
            "color": {
              "field": "low",
              "type": "ordinal",
              "legend": null,
              "scale": {
                "domain": [-0.5, 0, 0.5, 1, 1.5, 2, 2.5, 3, 3.5, 4, 4.5, 5, 5.5, 6, 6.5, 7, 7.5, 8, 8.5, 9, 9.5, 10],
                "range": ["#4a3070", "#aaaaaa", "#9f90c0", "#9088c0", "#8080c0", "#000030", "#b0b0b0", "#90a0a0", "#b0b0b0", "#b0b0b0", "#0a2a0a", "#b0b0b0", "#b0b0b0", "#b0b0b0", "#c8c080", "#101010", "#c8a868", "#b0a080", "#b09080", "#b08070", "#101010", "#b08070"]
              }
            }
          }
        },
        {
          "mark": {"type": "text", "font": "DejaVu Sans", "fontSize": 24, "color": "#555555", "align": "left", "baseline": "middle", "dx": 5},
          "encoding": {
            "x": {"datum": 1, "type": "quantitative", "scale": {"domain": [0, 1]}, "axis": null},
            "text": {"field": "label"}
          }
        }
      ],
      "resolve": {"scale": {"color": "independent"}}
    }
  ]
}
